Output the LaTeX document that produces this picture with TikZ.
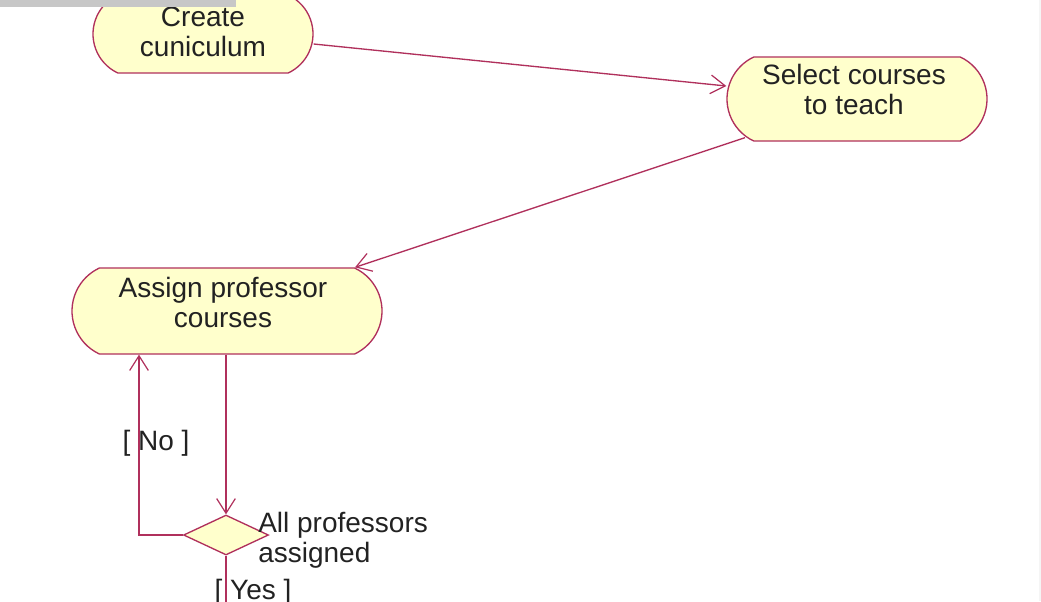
\documentclass[tikz,border=0pt]{standalone}
\usepackage{fontspec}
\setmainfont{Liberation Sans}
\usetikzlibrary{shapes.misc,shapes.geometric,arrows.meta}
\definecolor{edge}{RGB}{176,48,92}
\definecolor{fillc}{RGB}{255,255,204}
\definecolor{txt}{RGB}{34,34,34}
\tikzset{
  act/.style={rounded rectangle, rounded rectangle arc length=130, draw=edge, fill=fillc, line width=1pt, inner sep=0pt},
  dec/.style={diamond, draw=edge, fill=fillc, line width=1pt, inner sep=0pt, minimum width=63.75pt, minimum height=30pt},
  flow/.style={draw=edge, line width=1pt, -{Straight Barb[length=11pt,width=14pt,line width=0.9pt]}},
  plain/.style={draw=edge, line width=1pt},
  lbl/.style={text=txt, font=\fontsize{21}{22.5}\selectfont, inner sep=0pt, align=center}
}
\begin{document}
\begin{tikzpicture}[x=0.75pt,y=-0.75pt]
\useasboundingbox (0,0) rectangle (1041,601);
\clip (0,0) rectangle (1041,601);
\fill[white] (0,0) rectangle (1041,601);
\fill[black!4] (1039,0) rectangle (1041,601);
\node[act, minimum width=165pt, minimum height=58.5pt] (create) at (203,34) {};
\node[act, minimum width=195pt, minimum height=63pt] (select) at (857,99) {};
\node[act, minimum width=232.5pt, minimum height=64.5pt] (assign) at (227,311) {};
\node[lbl] (createText) at (203,32) {Create\\cuniculum};
\node[lbl] (selectText) at (854,89) {Select courses\\to teach};
\node[lbl] (assignText) at (223,302) {Assign professor\\courses};
\fill[black!22] (0,0) rectangle (236,7);
\node[dec] (decide) at (226,535) {};
\node[lbl, anchor=west, align=left] (q) at (258,540) {All professors\\assigned};
\node[lbl] (no) at (156,443) {[ No ]};
\node[lbl] (yes) at (253,592) {[ Yes ]};
\coordinate (bottom) at (226,610);
\draw[flow] ([yshift=-7.5pt]create.east) -- ([yshift=9.75pt]select.west);
\draw[flow] ([xshift=-84pt,yshift=3pt]select.south) -- ([xshift=96pt]assign.north);
\draw[flow] (assign.south -| decide.north) -- (decide.north);
\draw[flow] (decide.west) -| ([xshift=-66pt]assign.south);
\draw[plain] (decide.south) -- (bottom);
\end{tikzpicture}
\end{document}
